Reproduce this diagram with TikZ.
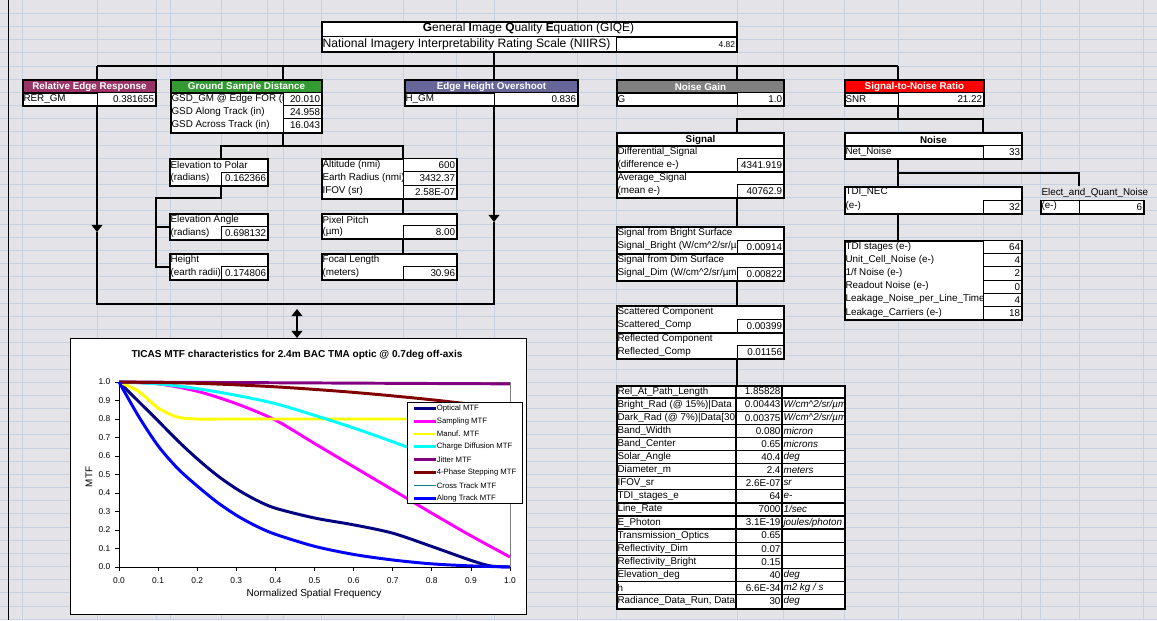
\documentclass[tikz,border=0pt]{standalone}
\usepackage{fontspec}
\setmainfont{Liberation Sans}
\usetikzlibrary{arrows.meta}

\definecolor{sheet}{HTML}{E3E3E8}
\definecolor{gridl}{HTML}{C6D1E2}
\definecolor{rercol}{HTML}{993366}
\definecolor{gsdcol}{HTML}{339933}
\definecolor{ehocol}{HTML}{666699}
\definecolor{ngcol}{HTML}{808080}
\definecolor{snrcol}{HTML}{FF0000}
\definecolor{optc}{HTML}{000080}
\definecolor{sampc}{HTML}{FF00FF}
\definecolor{manc}{HTML}{FFFF00}
\definecolor{chgc}{HTML}{00FFFF}
\definecolor{jitc}{HTML}{800080}
\definecolor{stpc}{HTML}{800000}
\definecolor{crsc}{HTML}{008080}
\definecolor{alc}{HTML}{0000FF}

\begin{document}
\begin{tikzpicture}[x=0.05cm, y=-0.05cm,
  box/.style={draw, line width=2.8pt, fill=white, anchor=north west, inner sep=0pt},
  sz/.style 2 args={minimum width=#1*0.05cm, minimum height=#2*0.05cm},
  head/.style={box, text=white, font=\fontsize{14}{16}\selectfont\bfseries},
  bhead/.style={box, font=\fontsize{14}{16}\selectfont\bfseries},
  val/.style={draw, line width=1.5pt, fill=white, anchor=north west, inner ysep=0pt, inner xsep=2pt,
    minimum height=13*0.05cm, text width=#1*0.05cm-4pt, align=right, font=\fontsize{14}{16}\selectfont},
  lbl/.style={anchor=west, inner sep=2pt, font=\fontsize{14}{16}\selectfont},
  unit/.style={anchor=west, inner sep=2pt, font=\fontsize{14}{16}\selectfont\itshape},
  wire/.style={line width=2.8pt},
  tip/.style={-{Triangle[width=15pt,length=10pt]}},
  tick/.style={inner sep=0pt, font=\fontsize{12}{13}\selectfont},
  legt/.style={anchor=west, inner sep=1pt, font=\fontsize{11}{12}\selectfont}]

% sheet and cell grid
\fill[sheet] (0,0) rectangle (1157,620);
\useasboundingbox (0,0) rectangle (1157,620);
\foreach \r in {1,...,47}
  \draw[gridl, line width=0.7pt] (0,\r*13.17) -- (1157,\r*13.17);
\foreach \c in {22,97,156,170,221,267,283,321,403,456,494,577,616,737,783,844,898,983,1021,1040,1079,1143}
  \draw[gridl, line width=0.7pt] (\c,0) -- (\c,620);
\draw[line width=1.4pt] (8,0) -- (8,620);

% GIQE
\node[box, sz={415}{30}] (giqe) at (321,21) {};
\draw[line width=1.5pt] (321,36.5) -- (736,36.5);
\node[inner sep=0pt, font=\fontsize{17}{19}\selectfont] (giqet) at (528.5,28.8)
  {\textbf{G}eneral \textbf{I}mage \textbf{Q}uality \textbf{E}quation (GIQE)};
\node[lbl, font=\fontsize{17.3}{19}\selectfont] (niirs) at (321,44) {National Imagery Interpretability Rating Scale (NIIRS)};
\node[val=120, minimum height=14.5*0.05cm, font=\fontsize{12}{14}\selectfont] (niirsv) at (616,36.5) {4.82};

% first level
\node[head, fill=rercol, sz={133}{13}] (rerh) at (22,79) {Relative Edge Response};
\node[box, sz={133}{13}] (rer) at (22,92) {};
\node[lbl] (rert) at (22,98.8) {RER\_GM};
\node[val=58] (rerv) at (97,92) {0.381655};

\node[head, fill=gsdcol, sz={151}{13}] (gsdh) at (170,79) {Ground Sample Distance};
\node[box, sz={151}{40}] (gsd) at (170,92) {};
\node[lbl] (gsd1) at (170,98.8) {GSD\_GM @ Edge FOR (in)};
\node[lbl] (gsd2) at (170,111.8) {GSD Along Track (in)};
\node[lbl] (gsd3) at (170,125.2) {GSD Across Track (in)};
\node[val=38] (gsdv1) at (283,92) {20.010};
\node[val=38] (gsdv2) at (283,105) {24.958};
\node[val=38, minimum height=14*0.05cm] (gsdv3) at (283,118) {16.043};

\node[head, fill=ehocol, sz={173}{13}] (ehoh) at (404,79) {Edge Height Overshoot};
\node[box, sz={173}{13}] (eho) at (404,92) {};
\node[lbl] (ehot) at (404,98.8) {H\_GM};
\node[val=83] (ehov) at (494,92) {0.836};

\node[head, fill=ngcol, sz={167}{13}] (ngh) at (616,79) {Noise Gain};
\node[box, sz={167}{13}] (ng) at (616,92) {};
\node[lbl] (ngt) at (616,98.8) {G};
\node[val=46] (ngv) at (737,92) {1.0};

\node[head, fill=snrcol, sz={139}{13}] (snrh) at (844,79) {Signal-to-Noise Ratio};
\node[box, sz={139}{13}] (snr) at (844,92) {};
\node[lbl] (snrt) at (844,98.8) {SNR};
\node[val=85] (snrv) at (898,92) {21.22};

\coordinate (busw) at (97,66);
\coordinate (buse) at (898,66);
\coordinate (busm) at (494,66);
\draw[wire] (busw) -- (buse);
\draw[wire] (busw) -- (rerh.north -| busw);
\draw[wire] (busw -| gsdv1.west) -- (gsdh.north -| gsdv1.west);
\draw[wire] (giqe.south -| busm) -- (ehoh.north -| busm);
\draw[wire] (busw -| ngv.west) -- (ngh.north -| ngv.west);
\draw[wire] (buse) -- (snrh.north -| buse);

% ground sample distance inputs
\node[box, sz={98}{27}] (ep) at (169,158) {};
\node[lbl] (ep1) at (169,164.5) {Elevation to Polar};
\node[lbl] (ep2) at (169,178) {(radians)};
\node[val=46] (epv) at (221,171.5) {0.162366};

\node[box, sz={98}{26}] (ea) at (169,213) {};
\node[lbl] (ea1) at (169,219.5) {Elevation Angle};
\node[lbl] (ea2) at (169,232.5) {(radians)};
\node[val=46] (eav) at (221,226) {0.698132};

\node[box, sz={98}{26}] (ht) at (169,253) {};
\node[lbl] (ht1) at (169,259.5) {Height};
\node[lbl] (ht2) at (169,272.5) {(earth radii)};
\node[val=46] (htv) at (221,266) {0.174806};

\node[box, sz={135}{40}] (alt) at (321,158) {};
\node[lbl] (alt1) at (321,164.7) {Altitude (nmi)};
\node[lbl] (alt2) at (321,178) {Earth Radius (nmi)};
\node[lbl] (alt3) at (321,191.3) {IFOV (sr)};
\node[val=53, minimum height=13.3*0.05cm] (altv1) at (403,158) {600};
\node[val=53, minimum height=13.3*0.05cm] (altv2) at (403,171.3) {3432.37};
\node[val=53, minimum height=13.3*0.05cm] (altv3) at (403,184.7) {2.58E-07};

\node[box, sz={135}{25}] (pp) at (321,213) {};
\node[lbl] (pp1) at (321,219.5) {Pixel Pitch};
\node[lbl] (pp2) at (321,231.5) {(µm)};
\node[val=53, minimum height=13*0.05cm] (ppv) at (403,225) {8.00};

\node[box, sz={135}{26}] (fl) at (321,253) {};
\node[lbl] (fl1) at (321,259.5) {Focal Length};
\node[lbl] (fl2) at (321,272.5) {(meters)};
\node[val=53] (flv) at (403,266) {30.96};

\coordinate (gj) at (283,146);
\coordinate (ga) at (221,146);
\coordinate (gb) at (403,146);
\draw[wire] (gsdv3.south west) -- (gj);
\draw[wire] (ep.north -| ga) -- (ga) -- (gb) -- (alt.north -| gb);
\coordinate (ec) at (221,198);
\coordinate (ed) at (156,198);
\draw[wire] (epv.south west) -- (ec) -- (ed) |- (ht.west);
\draw[wire] (ed |- ea.west) -- (ea.west);
\draw[wire] (altv3.south west) -- (pp.north -| altv3.south west);
\draw[wire] (ppv.south west) -- (fl.north -| ppv.south west);

% feedback to the MTF chart
\coordinate (arl) at (97,232);
\coordinate (arr) at (494,222);
\coordinate (botl) at (97,304);
\coordinate (botr) at (494,304);
\draw[wire, tip] (rer.south -| arl) -- (arl);
\draw[wire] (arl) -- (botl) -- (botr) -- (arr);
\draw[wire, tip] (eho.south -| arr) -- (arr);

% signal branch
\node[bhead, sz={167}{13}] (sigh) at (616,132) {Signal};
\node[box, sz={167}{26}] (dsig) at (616,145) {};
\node[lbl] (dsig1) at (616,151.5) {Differential\_Signal};
\node[lbl] (dsig2) at (616,164.5) {(difference e-)};
\node[val=46] (dsigv) at (737,158) {4341.919};
\node[box, sz={167}{26}] (asig) at (616,171) {};
\node[lbl] (asig1) at (616,177.5) {Average\_Signal};
\node[lbl] (asig2) at (616,190.5) {(mean e-)};
\node[val=46] (asigv) at (737,184) {40762.9};

\node[box, sz={167}{27}] (bsig) at (616,226) {};
\node[lbl] (bsig1) at (616,232.5) {Signal from Bright Surface};
\node[lbl] (bsig2) at (616,246) {Signal\_Bright (W/cm\textasciicircum{}2/sr/µm)};
\node[val=46, minimum height=13.5*0.05cm] (bsigv) at (737,239.5) {0.00914};
\node[box, sz={167}{27}] (dimsig) at (616,253) {};
\node[lbl] (dim1) at (616,259.5) {Signal from Dim Surface};
\node[lbl] (dim2) at (616,273) {Signal\_Dim (W/cm\textasciicircum{}2/sr/µm)};
\node[val=46, minimum height=13.5*0.05cm] (dimv) at (737,266.5) {0.00822};

\node[box, sz={167}{27}] (sc) at (616,305) {};
\node[lbl] (sc1) at (616,311.5) {Scattered Component};
\node[lbl] (sc2) at (616,325) {Scattered\_Comp};
\node[val=46, minimum height=13.5*0.05cm] (scv) at (737,318.5) {0.00399};
\node[box, sz={167}{26}] (rc) at (616,332) {};
\node[lbl] (rc1) at (616,338.5) {Reflected Component};
\node[lbl] (rc2) at (616,351.5) {Reflected\_Comp};
\node[val=46] (rcv) at (737,345) {0.01156};

\draw[wire] (asigv.south west) -- (bsig.north -| asigv.south west);
\draw[wire] (dimv.south west) -- (sc.north -| dimv.south west);

% radiometry inputs
\node[box, sz={228}{223}] (tab) at (616,385) {};
\foreach \nm/\v/\u [count=\i from 0] in {
  Rel\_At\_Path\_Length/1.85828/{},
  {Bright\_Rad (@ 15\%)|Data}/0.00443/{W/cm\textasciicircum{}2/sr/µm},
  {Dark\_Rad (@ 7\%)|Data[30}/0.00375/{W/cm\textasciicircum{}2/sr/µm},
  Band\_Width/0.080/micron,
  Band\_Center/0.65/microns,
  Solar\_Angle/40.4/deg,
  Diameter\_m/2.4/meters,
  IFOV\_sr/2.6E-07/sr,
  TDI\_stages\_e/64/e-,
  Line\_Rate/7000/{1/sec},
  E\_Photon/3.1E-19/{joules/photon},
  Transmission\_Optics/0.65/{},
  Reflectivity\_Dim/0.07/{},
  Reflectivity\_Bright/0.15/{},
  Elevation\_deg/40/deg,
  h/6.6E-34/{m2 kg / s},
  {Radiance\_Data\_Run, Data}/30/deg} {
  \node[lbl] (tn\i) at (616,391.5+13.1*\i) {\nm};
  \node[anchor=east, inner sep=2pt, font=\fontsize{14}{16}\selectfont] (tv\i) at (782,391.5+13.1*\i) {\v};
  \node[unit] (tu\i) at (782,391.5+13.1*\i) {\u};
}
\foreach \i in {1,...,16}
  \draw[line width=1.8pt] (616,385+13.1*\i) -- (844,385+13.1*\i);
\draw[line width=1.8pt] (736,385) -- (736,608);
\draw[line width=1.8pt] (782,385) -- (782,608);
\draw[wire] (rcv.south west) -- (tab.north -| rcv.south west);

% noise branch
\node[bhead, sz={177}{13}] (nzh) at (844,132) {Noise};
\node[box, sz={177}{13}] (nz) at (844,145) {};
\node[lbl] (nzt) at (844,151.5) {Net\_Noise};
\node[val=38] (nzv) at (983,145) {33};

\node[box, sz={177}{27}] (tdi) at (844,186) {};
\node[lbl] (tdi1) at (844,192.5) {TDI\_NEC};
\node[lbl] (tdi2) at (844,206) {(e-)};
\node[val=38, minimum height=13.5*0.05cm] (tdiv) at (983,199.5) {32};

\node[lbl] (elt) at (1040,192.5) {Elect\_and\_Quant\_Noise};
\node[box, sz={103}{13.5}] (el) at (1040,199.5) {};
\node[lbl] (el2) at (1040,206) {(e-)};
\node[val=64, minimum height=13.5*0.05cm] (elv) at (1079,199.5) {6};

\node[box, sz={177}{79}] (stg) at (844,240) {};
\foreach \nm/\v [count=\i from 0] in {TDI stages (e-)/64, Unit\_Cell\_Noise (e-)/4, {1/f Noise (e-)}/2,
  Readout Noise (e-)/0, Leakage\_Noise\_per\_Line\_Time/4, Leakage\_Carriers (e-)/18} {
  \node[lbl] (sn\i) at (844,246.6+13.17*\i) {\nm};
  \node[val=38, minimum height=13.17*0.05cm] (sv\i) at (983,240+13.17*\i) {\v};
}

\coordinate (sj) at (898,119);
\coordinate (sl) at (737,119);
\coordinate (sr) at (983,119);
\draw[wire] (snrv.south west) -- (sj);
\draw[wire] (sigh.north -| sl) -- (sl) -- (sr) -- (nzh.north -| sr);
\coordinate (nj) at (898,173);
\coordinate (nr) at (1079,173);
\draw[wire] (nz.south -| nj) -- (tdi.north -| nj);
\draw[wire] (nj) -- (nr) -- (elt.north -| nr);
\draw[wire] (tdi.south -| nj) -- (stg.north -| nj);

% MTF chart
\node[draw, line width=1.4pt, fill=white, anchor=north west, inner sep=0pt, sz={456}{276}] (chart) at (70,338) {};
\coordinate (dbl) at (297,309);
\draw[wire, {Triangle[width=15pt,length=10pt]}-{Triangle[width=15pt,length=10pt]}] (dbl) -- (chart.north -| dbl);
\node[font=\fontsize{14.3}{16}\selectfont\bfseries, inner sep=0pt] (ctitle) at (297,355)
  {TICAS MTF characteristics for 2.4m BAC TMA optic @ 0.7deg off-axis};

\begin{scope}[shift={(119,567)}, x=19.55cm, y=9.25cm]
  \draw[gray, line width=1pt] (0,0) rectangle (1,1);
  \foreach \lab [count=\i from 0] in {0.0,0.1,0.2,0.3,0.4,0.5,0.6,0.7,0.8,0.9,1.0} {
    \draw[line width=1pt] (-0.01,\i/10) -- (0,\i/10);
    \draw[line width=1pt] (\i/10,0) -- (\i/10,-0.022);
    \node[tick, anchor=east] (yl\i) at (-0.022,\i/10) {\lab};
    \node[tick] (xl\i) at (\i/10,-0.072) {\lab};
  }
  \draw[line width=1pt] (0,1) -- (0,0) -- (1,0);
  \draw[optc, line width=4.2pt] plot[smooth] coordinates {(0,1) (0.05,0.895) (0.1,0.79) (0.15,0.683)
    (0.2,0.585) (0.25,0.497) (0.3,0.423) (0.35,0.363) (0.4,0.318) (0.5,0.265) (0.6,0.228) (0.7,0.183)
    (0.8,0.111) (0.9,0.036) (0.95,0.006) (1,0)};
  \draw[sampc, line width=4.2pt] plot[smooth] coordinates {(0,1) (0.1,0.99) (0.2,0.95) (0.3,0.883)
    (0.4,0.794) (0.5,0.668) (0.6,0.542) (0.7,0.417) (0.8,0.291) (0.9,0.169) (1,0.054)};
  \draw[manc, line width=4.2pt] plot[smooth] coordinates {(0,1) (0.05,0.95) (0.1,0.86) (0.15,0.81)
    (0.2,0.8) (0.25,0.8)} -- (1,0.8);
  \draw[chgc, line width=4.2pt] plot[smooth] coordinates {(0,1) (0.1,0.99) (0.2,0.964) (0.3,0.928)
    (0.4,0.883) (0.5,0.82) (0.6,0.752) (0.7,0.677) (0.8,0.6) (0.9,0.52) (1,0.45)};
  \draw[jitc, line width=4.2pt] (0,1) -- (0.5,0.995) -- (1,0.99);
  \draw[stpc, line width=4.2pt] plot[smooth] coordinates {(0,1) (0.2,0.993) (0.4,0.974) (0.6,0.944)
    (0.8,0.904) (1,0.855)};
  \draw[alc, line width=4.2pt] plot[smooth] coordinates {(0,1) (0.05,0.815) (0.1,0.655) (0.15,0.533)
    (0.2,0.438) (0.25,0.352) (0.3,0.28) (0.35,0.222) (0.4,0.177) (0.5,0.112) (0.6,0.068) (0.7,0.038)
    (0.8,0.017) (0.9,0.006) (1,0)};
\end{scope}

\node[tick, rotate=90, font=\fontsize{14}{15}\selectfont] (mtf) at (89,477) {MTF};
\node[tick, font=\fontsize{14.3}{15}\selectfont] (nsf) at (314,594) {Normalized Spatial Frequency};

\node[draw, line width=1.4pt, fill=white, anchor=north west, inner sep=0pt, sz={115}{101}] (leg) at (407,402) {};
\foreach \c/\w/\t [count=\i from 0] in {optc/4/Optical MTF, sampc/4/Sampling MTF, manc/4/Manuf. MTF,
  chgc/4/Charge Diffusion MTF, jitc/4/Jitter MTF, stpc/4/4-Phase Stepping MTF,
  crsc/2.2/Cross Track MTF, alc/4/Along Track MTF} {
  \draw[\c, line width=\w pt] (414,408.3+12.85*\i) -- (436,408.3+12.85*\i);
  \node[legt] (lg\i) at (436,408.3+12.85*\i) {\t};
}
\end{tikzpicture}
\end{document}
